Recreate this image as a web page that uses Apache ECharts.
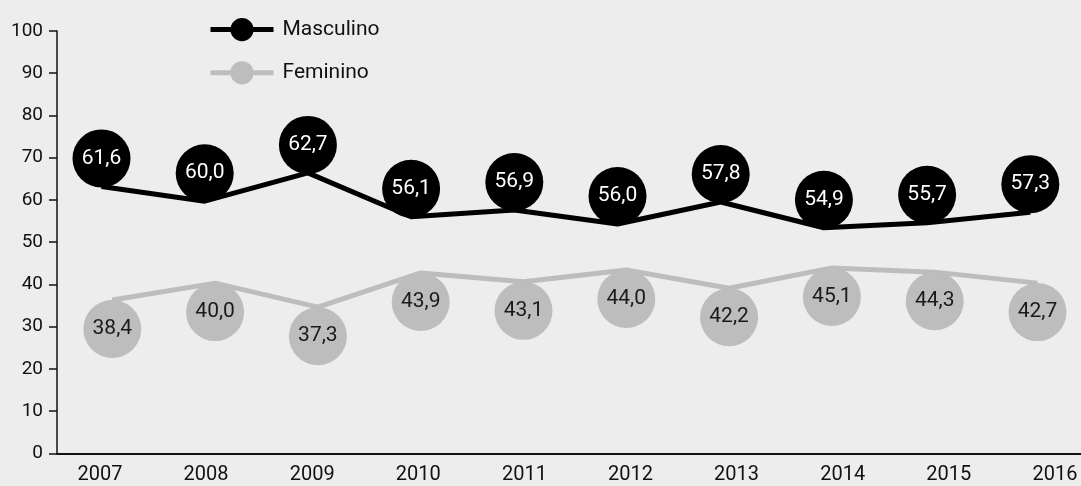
<!DOCTYPE html>
<html>
<head>
<meta charset="utf-8">
<script src="https://cdn.jsdelivr.net/npm/echarts@6/dist/echarts.min.js"></script>
<style>
html,body{margin:0;padding:0;background:#ededed;}
#chart{width:1081px;height:486px;}
</style>
</head>
<body>
<div id="chart"></div>
<script>
// Categories (years)
const years = [2007, 2008, 2009, 2010, 2011, 2012, 2013, 2014, 2015, 2016];
// Line vertex heights as drawn in the picture
const maleLine   = [63.2, 59.7, 66.4, 56.0, 57.6, 54.3, 59.5, 53.4, 54.6, 57.1];
const femaleLine = [36.3, 40.3, 34.6, 42.7, 40.6, 43.4, 39.1, 43.9, 42.9, 40.3];
// Printed values inside the bubbles
const maleValues   = [61.6, 60.0, 62.7, 56.1, 56.9, 56.0, 57.8, 54.9, 55.7, 57.3];
const femaleValues = [38.4, 40.0, 37.3, 43.9, 43.1, 44.0, 42.2, 45.1, 44.3, 42.7];
// Y tick labels
const yTicks = [0, 10, 20, 30, 40, 50, 60, 70, 80, 90, 100];
const seriesNames = ['Masculino', 'Feminino'];

const fmt = v => v.toFixed(1).replace('.', ',');
const FONT = 'Roboto';

const chart = echarts.init(document.getElementById('chart'), null, {renderer: 'canvas'});
chart.setOption({
  backgroundColor: '#ededed',
  animation: false,
  textStyle: {fontFamily: FONT},
  grid: {left: 57, right: 0, top: 31, bottom: 32.7, containLabel: false, outerBoundsMode: 'none'},
  legend: {
    data: seriesNames,
    orient: 'vertical',
    left: 203,
    top: 13,
    itemWidth: 63,
    itemHeight: 29,
    itemGap: 20,
    textStyle: {fontFamily: FONT, fontSize: 21, color: '#111', padding: [0, 0, 5, 4]},
    lineStyle: {width: 5}
  },
  xAxis: [
    {
      type: 'value',
      min: 2006.5947, max: 2016.246,
      axisLine: {show: true, onZero: false, lineStyle: {color: '#111', width: 2}},
      axisTick: {show: false},
      splitLine: {show: false},
      axisLabel: {
        customValues: years,
        formatter: v => String(v),
        fontFamily: FONT, fontSize: 20, color: '#111', margin: 12
      }
    },
    {type: 'value', show: false, min: 2006.5688, max: 2016.4911},
    {type: 'value', show: false, min: 2006.4621, max: 2016.4233}
  ],
  yAxis: {
    type: 'value',
    min: yTicks[0], max: yTicks[yTicks.length - 1], interval: 10,
    axisLine: {show: true, lineStyle: {color: '#111', width: 1.5}},
    axisTick: {show: true, length: 8, lineStyle: {color: '#111', width: 1.5}},
    splitLine: {show: false},
    axisLabel: {
      customValues: yTicks,
      formatter: v => String(v),
      fontFamily: FONT, fontSize: 19, color: '#111', margin: 14
    }
  },
  series: [
    {
      name: seriesNames[0],
      type: 'line',
      xAxisIndex: 1,
      data: years.map((y, i) => [y, maleLine[i]]),
      showAllSymbol: true,
      symbol: 'circle',
      symbolSize: 58,
      symbolOffset: [0, -28],
      z: 3,
      lineStyle: {color: '#000', width: 5},
      itemStyle: {color: '#000'},
      label: {
        show: true, position: 'inside',
        formatter: p => fmt(maleValues[p.dataIndex]),
        color: '#fff', fontFamily: FONT, fontSize: 21
      }
    },
    {
      name: seriesNames[1],
      type: 'line',
      xAxisIndex: 2,
      data: years.map((y, i) => [y, femaleLine[i]]),
      showAllSymbol: true,
      symbol: 'circle',
      symbolSize: 58,
      symbolOffset: [0, 29],
      z: 2,
      lineStyle: {color: '#bdbdbd', width: 5},
      itemStyle: {color: '#bdbdbd'},
      label: {
        show: true, position: 'inside',
        formatter: p => fmt(femaleValues[p.dataIndex]),
        color: '#1a1a1a', fontFamily: FONT, fontSize: 21
      }
    }
  ]
});
</script>
</body>
</html>
